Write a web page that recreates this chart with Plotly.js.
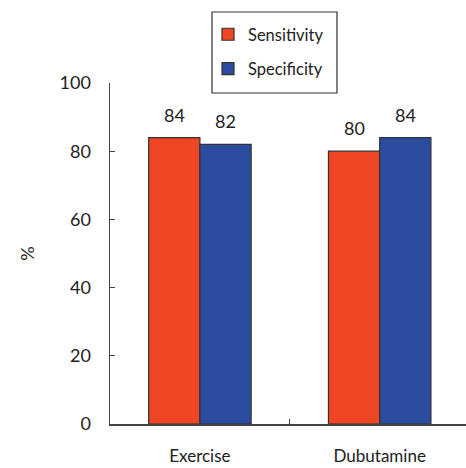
<!DOCTYPE html>
<html>
<head>
<meta charset="utf-8">
<script src="https://cdn.plot.ly/plotly-3.0.1.min.js"></script>
<style>html,body{margin:0;padding:0;background:#fff;}#chart{width:466px;height:468px;}</style>
</head>
<body>
<div id="chart"></div>
<script>
const categories = ["Exercise", "Dubutamine"];
const sensitivity = [84, 80];
const specificity = [82, 84];
const seriesNames = ["Sensitivity", "Specificity"];
const yTicks = [0, 20, 40, 60, 80, 100];

const FONT = "Lato, 'Open Sans', sans-serif";
const colors = ["#EE4624", "#2B4C9E"];
const seriesVals = [sensitivity, specificity];

const traces = seriesVals.map((vals, i) => ({
  type: "bar",
  name: seriesNames[i],
  x: categories,
  y: vals,
  marker: {color: colors[i], line: {color: "#333333", width: 1.2}},
  legendgroup: "g" + i,
  hoverinfo: "none"
}));

// data labels via annotations built from arrays (offset to each bar of the group)
const annotations = [];
seriesVals.forEach((vals, i) => {
  vals.forEach((v, j) => {
    annotations.push({
      x: j + (i === 0 ? -0.142 : 0.142),
      y: v,
      xref: "x", yref: "y",
      text: String(v),
      showarrow: false,
      yanchor: "bottom",
      yshift: 10,
      font: {family: FONT, size: 18, color: "#222"}
    });
  });
});

const layout = {
  width: 466, height: 468,
  margin: {l: 110, r: 0, t: 83, b: 44},
  paper_bgcolor: "#fff", plot_bgcolor: "#fff",
  barmode: "group",
  bargap: 0.43,
  bargroupgap: 0,
  font: {family: FONT, color: "#222"},
  showlegend: true,
  legend: {
    x: 0.2753, y: 1.1935, xanchor: "left", yanchor: "top",
    borderwidth: 0,
    font: {family: FONT, size: 16.5, color: "#222"},
    traceorder: "grouped",
    tracegroupgap: 10,
    bgcolor: "rgba(0,0,0,0)",
    entrywidth: 100
  },
  shapes: [{
    type: "rect", xref: "paper", yref: "paper",
    x0: 0.2865, x1: 0.6376, y0: 0.9707, y1: 1.2082,
    line: {color: "#333", width: 1.2}, fillcolor: "rgba(0,0,0,0)"
  }],
  xaxis: {
    type: "category",
    range: [-0.5, 1.48],
    showline: true, linecolor: "#444", linewidth: 1.5,
    ticks: "inside", tickson: "boundaries", ticklen: 5, tickcolor: "#444",
    showgrid: false, zeroline: false,
    tickfont: {family: FONT, size: 17, color: "#222"},
    ticklabelstandoff: 16
  },
  yaxis: {
    range: [0, 100],
    tickvals: yTicks,
    showline: true, linecolor: "#444", linewidth: 1.5,
    ticks: "inside", ticklen: 5, tickcolor: "#444",
    showgrid: false, zeroline: false,
    tickfont: {family: FONT, size: 18, color: "#222"},
    ticklabelstandoff: 14,
    title: {text: "%", font: {family: FONT, size: 18, color: "#222"}, standoff: 20}
  },
  annotations: annotations
};

Plotly.newPlot("chart", traces, layout, {displayModeBar: false, staticPlot: true});
</script>
</body>
</html>
